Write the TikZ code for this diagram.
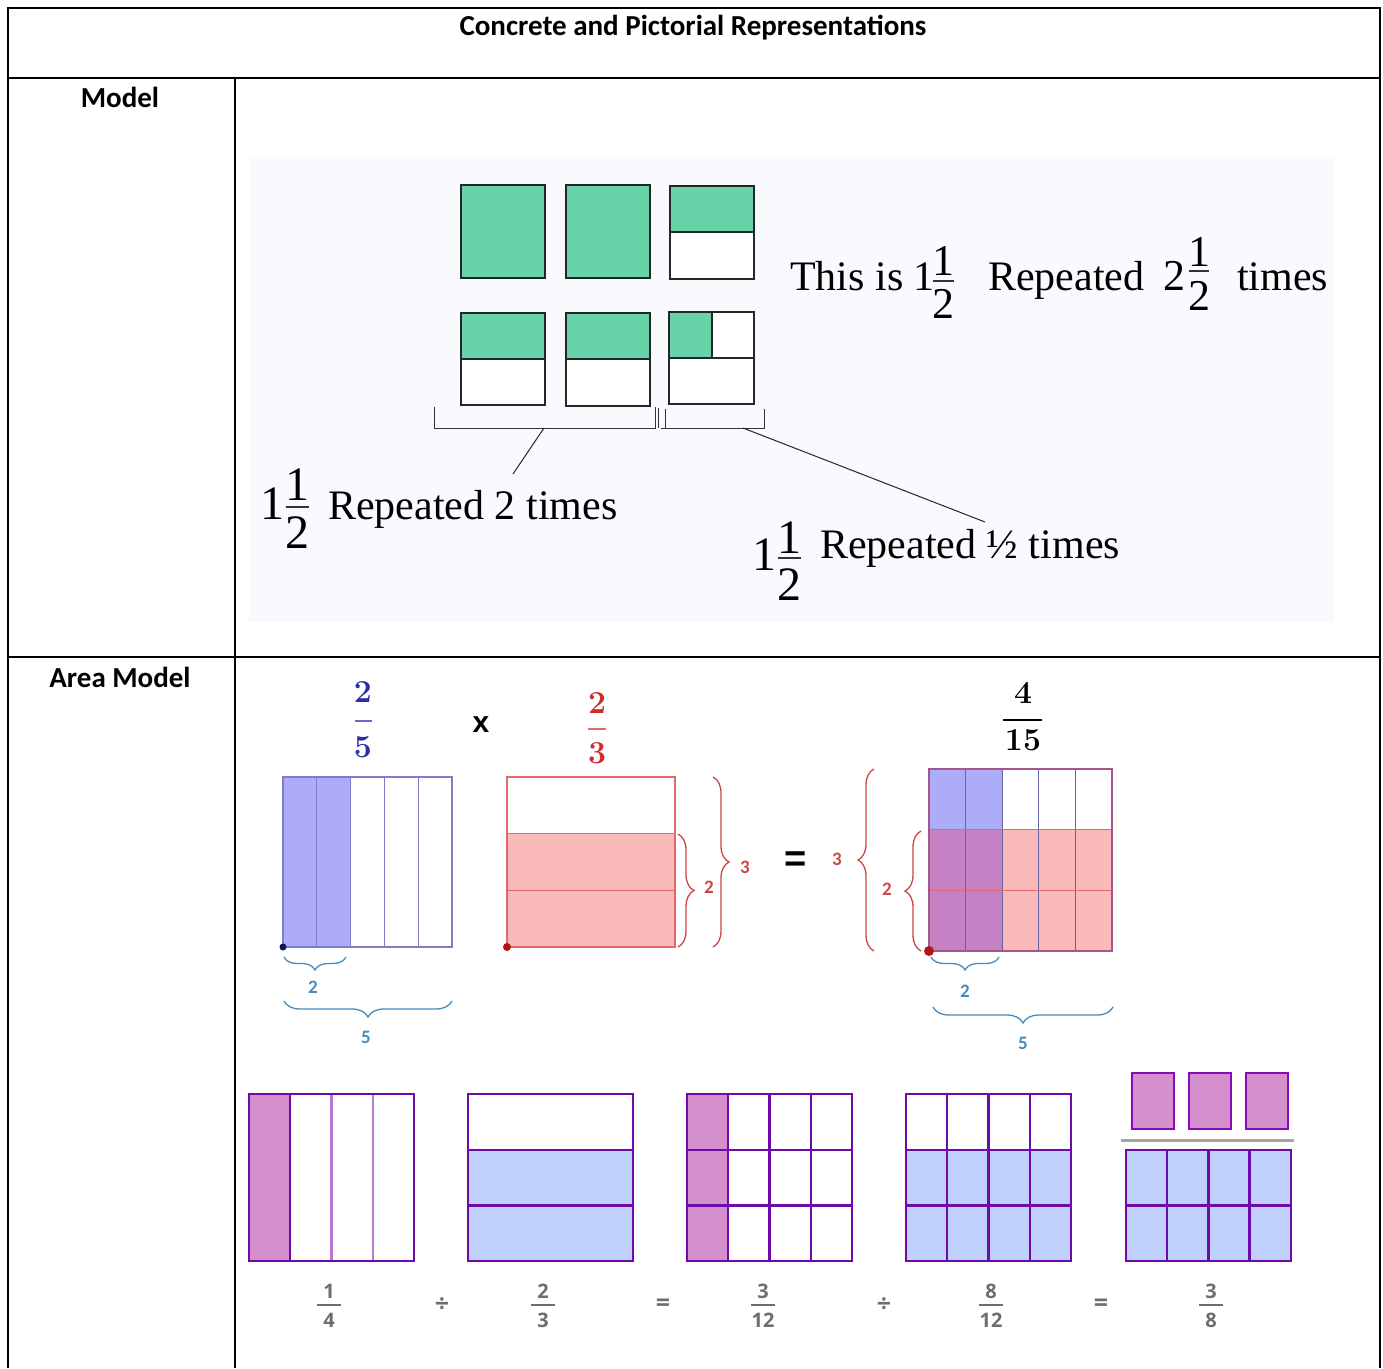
\documentclass[tikz,border=0pt]{standalone}
\usepackage{fontspec}
\usetikzlibrary{decorations.pathreplacing}
\newfontfamily\carlitofont{Carlito}
\newfontfamily\libserif{Liberation Serif}
\newfontfamily\libsans{Liberation Sans}
\newfontfamily\opensansfont{Open Sans}
\newcommand\myfs[1]{\fontsize{#1}{#1}\selectfont}
\definecolor{mgreen}{RGB}{102,211,169}
\definecolor{panelbg}{RGB}{248,250,254}
\definecolor{ablue}{RGB}{172,172,248}
\definecolor{ablueline}{RGB}{125,125,200}
\definecolor{apink}{RGB}{250,186,186}
\definecolor{aredline}{RGB}{225,105,110}
\definecolor{amauve}{RGB}{196,130,196}
\definecolor{bracblue}{RGB}{70,140,190}
\definecolor{bracred}{RGB}{205,70,70}
\definecolor{fracblue}{RGB}{45,45,170}
\definecolor{fracred}{RGB}{205,45,45}
\definecolor{dotnavy}{RGB}{20,20,90}
\definecolor{dotred}{RGB}{180,20,20}
\definecolor{bpurple}{RGB}{212,144,204}
\definecolor{bline}{RGB}{110,10,170}
\definecolor{blight}{RGB}{185,120,210}
\definecolor{bblue}{RGB}{192,208,252}
\definecolor{glabel}{RGB}{110,110,110}
\definecolor{gbarc}{RGB}{165,165,165}
\newcommand\gfrac[4]{%
  \node[glab,anchor=base] (#1n) at (#2,1298) {#3};
  \draw[gfbar] ({#2-12},1305) -- ({#2+12},1305);
  \node[glab,anchor=base] (#1d) at (#2,1327) {#4};}
\tikzset{
  tbl/.style={line width=2.3pt,black},
  gbox/.style={draw=black!85,line width=1.2pt},
  hdr/.style={font=\carlitofont\bfseries\myfs{29},inner sep=0pt},
  sertxt/.style={font=\libserif\myfs{42},inner sep=0pt,anchor=base west},
  serdig/.style={font=\libserif\myfs{44},inner sep=0pt,anchor=base},
  serdigb/.style={font=\libserif\myfs{48},inner sep=0pt,anchor=base},
  fbar/.style={line width=1.3pt,black!80},
  bfr/.style={font=\rmfamily\bfseries\myfs{32},inner sep=0pt,anchor=base},
  blab/.style={font=\carlitofont\bfseries\myfs{19},inner sep=0pt},
  bbrace/.style={decorate,decoration={brace,amplitude=#1},draw=bracblue,line width=1.3pt},
  rbrace/.style={decorate,decoration={brace,amplitude=16pt},draw=bracred,line width=1.3pt},
  pline/.style={draw=bline,line width=2.4pt},
  plight/.style={draw=blight,line width=2.4pt},
  glab/.style={font=\opensansfont\bfseries\myfs{20},text=glabel,inner sep=0pt},
  gop/.style={font=\opensansfont\bfseries\myfs{25},text=glabel,inner sep=0pt},
  gfbar/.style={draw=glabel,line width=1.6pt},
}
\begin{document}
\begin{tikzpicture}[x=1pt,y=-1pt]
\useasboundingbox (0,0) rectangle (1383,1368);
\fill[white] (0,0) rectangle (1383,1368);
% ---------- table ----------
\draw[tbl] (8,1368) -- (8,8) -- (1380,8) -- (1380,1368);
\draw[tbl] (8,78) -- (1380,78);
\draw[tbl] (235,78) -- (235,1368);
\draw[tbl] (8,657) -- (248,657);
\draw[line width=1.2pt] (248,657) -- (1142,657);
\draw[tbl] (1142,657) -- (1380,657);
\node[hdr] (title) at (693,28) {Concrete and Pictorial Representations};
\node[hdr] (model) at (120,97) {Model};
\node[hdr] (area) at (120,677) {Area Model};
% ---------- Model panel ----------
\fill[panelbg] (249,157) rectangle (1334,622);
\fill[mgreen] (461,185) rectangle (545,278);
\draw[gbox] (461,185) rectangle (545,278);
\fill[mgreen] (566,185) rectangle (650,278);
\draw[gbox] (566,185) rectangle (650,278);
\fill[white] (670,186) rectangle (754,279);
\fill[mgreen] (670,186) rectangle (754,232);
\draw[gbox] (670,186) rectangle (754,279) (670,232) -- (754,232);
\fill[white] (461,313) rectangle (545,405);
\fill[mgreen] (461,313) rectangle (545,359);
\draw[gbox] (461,313) rectangle (545,405) (461,359) -- (545,359);
\fill[white] (566,313) rectangle (650,406);
\fill[mgreen] (566,313) rectangle (650,359);
\draw[gbox] (566,313) rectangle (650,406) (566,359) -- (650,359);
\fill[white] (669,312) rectangle (754,404);
\fill[mgreen] (669,312) rectangle (712,358);
\draw[gbox] (669,312) rectangle (754,404) (669,358) -- (754,358) (712,312) -- (712,358);
% brackets
\draw[line width=1pt,black!80] (434,407) -- (434,428) -- (655,428) -- (655,407);
\draw[line width=1pt,black!80] (658,408) -- (658,428);
\draw[line width=1pt,black!80] (661,428) -- (764,428) -- (764,409);
\draw[line width=1pt,black!80] (665,409) -- (665,428);
\coordinate (bl) at (544,428);
\coordinate (br) at (743,428);
\coordinate (tl) at (513,474);
\coordinate (tr) at (985,522);
\draw[line width=1pt,black!85] (bl) -- (tl);
\draw[line width=1pt,black!85] (br) -- (tr);
% texts
\node[sertxt] (thisis) at (790,290) {This is 1};
\node[serdig] (f1n) at (943,275) {1};
\draw[fbar] (933,281) -- (954,281);
\node[serdig] (f1d) at (943,318) {2};
\node[sertxt] (rep1) at (988,290) {Repeated};
\node[serdig] (i2) at (1174,290) {2};
\node[serdig] (f2n) at (1199,266) {1};
\draw[fbar] (1189,271) -- (1209,271);
\node[serdig] (f2d) at (1199,310) {2};
\node[sertxt] (times1) at (1237,290) {times};
\node[serdigb] (i3) at (272,519) {1};
\node[serdigb] (f3n) at (297,500) {1};
\draw[fbar] (286,507) -- (309,507);
\node[serdigb] (f3d) at (297,548) {2};
\node[sertxt] (rep2) at (328,519) {Repeated 2 times};
\node[serdigb] (i4) at (764,570) {1};
\node[serdigb] (f4n) at (789,553) {1};
\draw[fbar] (778,558) -- (801,558);
\node[serdigb] (f4d) at (789,600) {2};
\node[sertxt] (rep3) at (820,558) {Repeated ½ times};
% ---------- Area model ----------
\node[bfr,text=fracblue] (a2) at (363,702) {2};
\draw[fracblue!70,line width=1.2pt] (355,721) -- (372,721);
\node[bfr,text=fracblue] (a5) at (363,757) {5};
\node[font=\libsans\bfseries\myfs{30},inner sep=0pt] (times) at (481,725) {x};
\node[bfr,text=fracred] (b2) at (597,713) {2};
\draw[fracred!70,line width=1.2pt] (588,729) -- (606,729);
\node[bfr,text=fracred] (b3) at (597,763) {3};
\node[bfr] (c4) at (1023,703) {4};
\draw[black,line width=1.5pt] (1003,720) -- (1042,720);
\node[bfr] (c15) at (1023,750) {15};
% blue rectangle
\fill[ablue] (283,777) rectangle (350.6,947);
\foreach \i in {1,2,3,4} \draw[ablueline,line width=1pt] ({283+33.8*\i},777) -- ({283+33.8*\i},947);
\draw[ablueline,line width=1.1pt] (283,777) rectangle (452,947);
\fill[dotnavy] (283,947) circle (3.5);
\draw[bbrace=13pt] (346,957) -- (284,957);
\node[blab,text=bracblue] (l2a) at (313,987) {2};
\draw[bbrace=16pt] (452,1001) -- (284,1001);
\node[blab,text=bracblue] (l5a) at (366,1037) {5};
% red rectangle
\fill[apink] (507,833.7) rectangle (675,947);
\draw[aredline,line width=1pt] (507,890.3) -- (675,890.3) (507,833.7) -- (675,833.7);
\draw[aredline,line width=1.1pt] (507,777) rectangle (675,947);
\fill[dotred] (507,947) circle (4);
\draw[rbrace] (678,834) -- (678,947);
\node[blab,text=bracred] (l2b) at (709,887) {2};
\draw[rbrace] (713,777) -- (713,947);
\node[blab,text=bracred] (l3b) at (745,867) {3};
\node[font=\libsans\bfseries\myfs{38},inner sep=0pt] (eq) at (796,862) {=};
% product rectangle
\fill[ablue] (929,769) rectangle (1002.2,829.7);
\fill[amauve] (929,829.7) rectangle (1002.2,951);
\fill[apink] (1002.2,829.7) rectangle (1112,951);
\foreach \i in {1,2,3,4} \draw[ablueline!80!black,line width=1pt] ({929+36.6*\i},769) -- ({929+36.6*\i},951);
\draw[aredline,line width=1pt] (929,829.7) -- (1112,829.7) (929,890.3) -- (1112,890.3);
\draw[ablueline!70!red,line width=1.1pt] (929,769) rectangle (1112,951);
\fill[dotred] (929,951) circle (5);
\draw[rbrace] (874,951) -- (874,769);
\node[blab,text=bracred] (l3c) at (837,859) {3};
\draw[rbrace] (921,951) -- (921,831);
\node[blab,text=bracred] (l2c) at (887,889) {2};
\draw[bbrace=13pt] (999,957) -- (931,957);
\node[blab,text=bracblue] (l2d) at (965,991) {2};
\draw[bbrace=16pt] (1113,1007) -- (933,1007);
\node[blab,text=bracblue] (l5d) at (1023,1043) {5};
% ---------- bottom row ----------
% A
\fill[bpurple] (249,1094) rectangle (290.25,1261);
\draw[plight] (331.5,1094) -- (331.5,1261) (372.75,1094) -- (372.75,1261);
\draw[pline] (290.25,1094) -- (290.25,1261);
\draw[pline] (249,1094) rectangle (414,1261);
% B
\fill[bblue] (468,1149.7) rectangle (633,1261);
\draw[pline] (468,1149.7) -- (633,1149.7) (468,1205.3) -- (633,1205.3);
\draw[pline] (468,1094) rectangle (633,1261);
% C
\fill[bpurple] (687,1094) rectangle (728.25,1261);
\draw[pline] (728.25,1094) -- (728.25,1261) (769.5,1094) -- (769.5,1261) (810.75,1094) -- (810.75,1261);
\draw[pline] (687,1149.7) -- (852,1149.7) (687,1205.3) -- (852,1205.3);
\draw[pline] (687,1094) rectangle (852,1261);
% D
\fill[bblue] (906,1149.7) rectangle (1071,1261);
\draw[pline] (947.25,1094) -- (947.25,1261) (988.5,1094) -- (988.5,1261) (1029.75,1094) -- (1029.75,1261);
\draw[pline] (906,1149.7) -- (1071,1149.7) (906,1205.3) -- (1071,1205.3);
\draw[pline] (906,1094) rectangle (1071,1261);
% E
\foreach \xx in {1132,1189,1246} {
  \fill[bpurple] (\xx,1073) rectangle ({\xx+42},1129);
  \draw[draw=bline!80!magenta,line width=2.2pt] (\xx,1073) rectangle ({\xx+42},1129);
}
\draw[gbarc,line width=3pt] (1121,1140) -- (1294,1140);
\fill[bblue] (1126,1150) rectangle (1291,1261);
\draw[pline] (1167,1150) -- (1167,1261) (1208.3,1150) -- (1208.3,1261) (1249.5,1150) -- (1249.5,1261);
\draw[pline] (1126,1205.5) -- (1291,1205.5);
\draw[pline] (1126,1150) rectangle (1291,1261);
% labels
\gfrac{q1}{329}{1}{4}
\node[gop] (div1) at (442,1305) {÷};
\gfrac{q2}{543}{2}{3}
\node[gop] (eq1) at (663,1305) {=};
\gfrac{q3}{763}{3}{12}
\node[gop] (div2) at (884,1305) {÷};
\gfrac{q4}{991}{8}{12}
\node[gop] (eq2) at (1101,1305) {=};
\gfrac{q5}{1211}{3}{8}
\end{tikzpicture}
\end{document}
